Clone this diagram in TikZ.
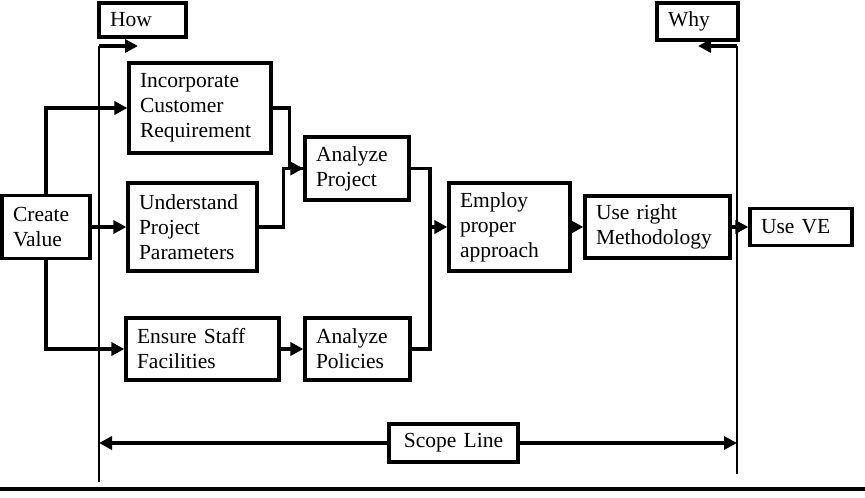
\documentclass[tikz,border=0pt]{standalone}
\usepackage{fontspec}
\setmainfont{Liberation Serif}
\usetikzlibrary{arrows.meta,positioning}

\begin{document}
\begin{tikzpicture}[
    x=1pt, y=-1pt,
    box/.style={rectangle, draw, line width=3.2pt, align=left, inner xsep=11pt, inner ysep=0pt, font=\fontsize{21.5}{25}\selectfont},
    arrow/.style={-{Triangle[length=13pt,width=13pt]}, line width=3.4pt},
    link/.style={line width=3.4pt},
    bound/.style={line width=1.1pt}
]
    \useasboundingbox (0,0) rectangle (865,498);

    \node[box, text width=65pt, minimum height=34pt] (how) at (142.5,20) {How};
    \node[box, text width=59pt, minimum height=37pt] (why) at (697.5,21.5) {Why};

    \node[box, text width=66pt, minimum height=63pt] (cv) at (46,227) {Create\\Value};
    \node[box, text width=120pt, minimum height=90pt] (icr) at (200,108) {Incorporate\\Customer\\Requirement};
    \node[box, text width=107pt, minimum height=88pt] (upp) at (192.5,227) {Understand\\Project\\Parameters};
    \node[box, text width=131pt, minimum height=62pt] (esf) at (202.5,349) {Ensure Staff\\Facilities};

    \node[box, text width=82pt, minimum height=63pt] (apr) at (357,168.5) {Analyze\\Project};
    \node[box, text width=83pt, minimum height=62pt] (apo) at (357.5,349) {Analyze\\Policies};

    \node[box, text width=99pt, minimum height=88pt] (epa) at (509.5,227) {Employ\\proper\\approach};
    \node[box, text width=123pt, minimum height=62pt] (urm) at (657.5,227) {Use right\\Methodology};
    \node[box, text width=80pt, minimum height=37pt] (uve) at (801,227) {Use VE};

    \node[box, align=center, text width=107pt, minimum height=38pt] (scl) at (453.5,443) {Scope Line};

    \coordinate (howtop) at (99,46);
    \coordinate (howbot) at (99,482);
    \coordinate (howtip) at (138,46);
    \coordinate (whytop) at (737,46);
    \coordinate (whybot) at (737,474);
    \coordinate (whytip) at (698,46);
    \coordinate (scl-l) at (99,443);
    \coordinate (scl-r) at (737,443);
    \coordinate (jn) at (430,227);
    \coordinate (rulel) at (0,489);
    \coordinate (ruler) at (865,489);

    % how / why boundaries
    \draw[bound] (howtop) -- (howbot);
    \draw[bound] (whytop) -- (whybot);
    \draw[arrow] (howtop) -- (howtip);
    \draw[arrow] (whytop) -- (whytip);

    \draw[arrow] (cv.north) |- (icr.west);
    \draw[arrow] (cv.east) -- (upp.west);
    \draw[arrow] (cv.south) |- (esf.west);

    \draw[arrow] (icr.east) -- ++(17,0) |- (apr.west);
    \draw[link] (upp.east) -- ++(25,0) |- (apr.west);
    \draw[arrow] (esf.east) -- (apo.west);

    \draw[link] (apr.east) -| (jn);
    \draw[link] (apo.east) -| (jn);
    \draw[arrow] (jn) -- (epa.west);
    \draw[arrow] (epa.east) -- (urm.west);
    \draw[arrow] (urm.east) -- (uve.west);

    % scope line
    \draw[arrow] (scl.west) -- (scl-l);
    \draw[arrow] (scl.east) -- (scl-r);
    \draw[link] (rulel) -- (ruler);
\end{tikzpicture}
\end{document}
